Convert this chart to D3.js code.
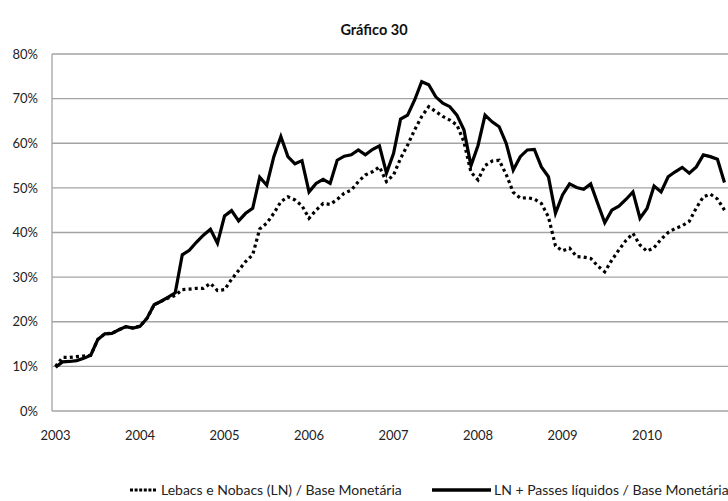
<!DOCTYPE html>
<html>
<head>
<meta charset="utf-8">
<script src="https://cdn.jsdelivr.net/npm/d3@7/dist/d3.min.js"></script>
<style>
  html, body { margin: 0; padding: 0; background: #fff; }
  svg { display: block; font-family: Lato, "Open Sans", sans-serif; }
</style>
</head>
<body>
<svg id="chart" width="728" height="501"></svg>
<script>
// ---- Data (monthly, Jan 2003 - Dec 2010), values in % ----
const years = [2003, 2004, 2005, 2006, 2007, 2008, 2009, 2010];
const months = years.flatMap(y => d3.range(1, 13).map(m => `${y}-${String(m).padStart(2, "0")}`));

// Lebacs e Nobacs (LN) / Base Monetária  (dotted)
const lebacsNobacs = [
  10.0, 12.0, 12.0, 12.2, 12.3, 12.5, 16.0, 17.3, 17.4, 18.2, 18.9, 18.6,
  19.0, 20.8, 23.8, 24.6, 25.3, 25.9, 27.2, 27.3, 27.5, 27.5, 28.6, 27.0,
  27.2, 29.5, 31.5, 33.5, 35.0, 40.8, 42.1, 44.3, 46.9, 48.0, 47.3, 46.0,
  43.2, 45.0, 46.5, 46.3, 47.4, 48.8, 49.5, 51.4, 52.9, 53.6, 54.7, 51.4,
  52.9, 56.6, 59.6, 63.0, 66.0, 68.2, 67.1, 66.0, 65.2, 64.1, 60.3, 53.5,
  51.8, 55.0, 56.0, 56.2, 53.0, 49.0, 47.7, 47.8, 47.5, 46.5, 43.5, 37.0,
  35.9, 36.5, 34.6, 34.5, 34.2, 32.5, 31.2, 33.8, 36.1, 38.2, 39.8, 37.2,
  35.8, 36.6, 38.5, 40.0, 40.9, 41.5, 42.5, 45.5, 48.0, 48.6, 47.5, 45.0
];

// LN + Passes líquidos / Base Monetária  (solid)
const lnPasses = [
   9.8, 11.0, 11.1, 11.3, 11.8, 12.5, 16.0, 17.3, 17.4, 18.2, 18.9, 18.6,
  19.0, 20.8, 23.8, 24.6, 25.5, 26.5, 35.0, 36.0, 37.8, 39.4, 40.7, 37.6,
  43.7, 44.9, 42.6, 44.3, 45.4, 52.4, 50.6, 57.0, 61.5, 57.0, 55.4, 56.1,
  49.1, 51.0, 51.9, 51.0, 56.2, 57.1, 57.4, 58.5, 57.4, 58.6, 59.4, 53.3,
  57.7, 65.4, 66.3, 69.7, 73.8, 73.1, 70.4, 69.0, 68.2, 66.3, 63.0, 55.0,
  59.5, 66.3, 64.8, 63.7, 60.0, 54.0, 57.0, 58.5, 58.6, 54.7, 52.5, 44.3,
  48.4, 50.9, 50.1, 49.7, 50.9, 46.5, 42.2, 45.0, 45.9, 47.4, 49.1, 43.2,
  45.4, 50.4, 49.1, 52.5, 53.6, 54.6, 53.3, 54.7, 57.4, 57.0, 56.4, 51.2
];

const yTicks = [0, 10, 20, 30, 40, 50, 60, 70, 80];
const title = "Gráfico 30";
const seriesNames = ["Lebacs e Nobacs (LN) / Base Monetária", "LN + Passes líquidos / Base Monetária"];

// ---- Layout ----
const svg = d3.select("#chart");
const plot = { left: 52, right: 728, top: 54, bottom: 411 };

const x = d3.scaleBand().domain(months).range([plot.left, plot.right]).padding(0);
const y = d3.scaleLinear().domain([0, 80]).range([plot.bottom, plot.top]);
const cx = d => x(d) + x.bandwidth() / 2;

// Gridlines
svg.append("g")
  .selectAll("line")
  .data(yTicks)
  .join("line")
  .attr("x1", plot.left).attr("x2", plot.right)
  .attr("y1", d => y(d)).attr("y2", d => y(d))
  .attr("stroke", "#a3a3a3").attr("stroke-width", 1.3);

// Left axis line
svg.append("line")
  .attr("x1", plot.left).attr("x2", plot.left)
  .attr("y1", plot.top).attr("y2", plot.bottom)
  .attr("stroke", "#a3a3a3").attr("stroke-width", 1.3);

// Y axis labels
const yAxis = d3.axisLeft(y).tickValues(yTicks).tickFormat(d => d + "%").tickSize(0).tickPadding(14);
svg.append("g")
  .attr("transform", `translate(${plot.left},0)`)
  .call(yAxis)
  .call(g => g.select(".domain").remove())
  .call(g => g.selectAll("text").attr("font-size", 13).attr("fill", "#222").attr("font-family", "Lato, sans-serif"));

// X axis labels
const xAxis = d3.axisBottom(x)
  .tickValues(months.filter((m, i) => i % 12 === 0))
  .tickFormat(m => m.slice(0, 4))
  .tickSize(0).tickPadding(20);
svg.append("g")
  .attr("transform", `translate(0,${plot.bottom})`)
  .call(xAxis)
  .call(g => g.select(".domain").remove())
  .call(g => g.selectAll("text").attr("font-size", 13).attr("fill", "#222").attr("font-family", "Lato, sans-serif"));

// Lines
const line = vals => d3.line().x((d, i) => cx(months[i])).y(d => y(d))(vals);

svg.append("path")
  .attr("d", line(lebacsNobacs))
  .attr("fill", "none").attr("stroke", "#000")
  .attr("stroke-width", 3.2).attr("stroke-dasharray", "3,3.2");

svg.append("path")
  .attr("d", line(lnPasses))
  .attr("fill", "none").attr("stroke", "#000")
  .attr("stroke-width", 3.2).attr("stroke-linejoin", "miter");

// Title
svg.append("text")
  .attr("x", 374).attr("y", 35)
  .attr("text-anchor", "middle")
  .attr("font-size", 14.5).attr("font-weight", "bold").attr("fill", "#111")
  .text(title);

// Legend
const leg = svg.append("g").attr("font-size", 14).attr("fill", "#222");
leg.append("line").attr("x1", 130).attr("x2", 157).attr("y1", 490).attr("y2", 490)
  .attr("stroke", "#000").attr("stroke-width", 3.2).attr("stroke-dasharray", "3,1.6");
leg.append("text").attr("x", 161).attr("y", 495).text(seriesNames[0]);
leg.append("line").attr("x1", 432).attr("x2", 491).attr("y1", 490).attr("y2", 490)
  .attr("stroke", "#000").attr("stroke-width", 3.6);
leg.append("text").attr("x", 494).attr("y", 495).text(seriesNames[1]);
</script>
</body>
</html>
